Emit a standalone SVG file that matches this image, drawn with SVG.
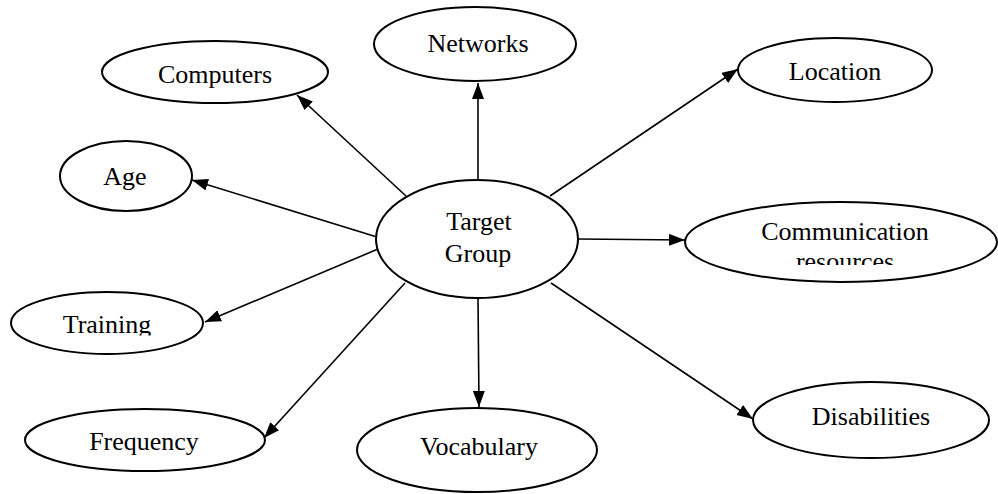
<svg xmlns="http://www.w3.org/2000/svg" width="998" height="494" viewBox="0 0 998 494">
<style>
.n{fill:#fff;stroke:#000;stroke-width:2}
.t{font-family:"Liberation Serif","Times New Roman",serif;font-size:26px;fill:#000;text-anchor:middle}
.c line{stroke:#000;stroke-width:1.6}
</style>
<defs>
<marker id="ah" markerUnits="userSpaceOnUse" markerWidth="18" markerHeight="14" refX="16" refY="6" orient="auto">
<path d="M0,0 L16,6 L0,12 Z" fill="#000"/>
</marker>
<clipPath id="clipComm"><rect x="680" y="190" width="318" height="75"/></clipPath>
<clipPath id="clipTrain"><rect x="0" y="290" width="240" height="45.5"/></clipPath>
</defs>
<rect width="998" height="494" fill="#fff"/>
<g class="c" id="connectors">
<line x1="478" y1="180" x2="478" y2="83" marker-end="url(#ah)"/>
<line x1="406" y1="196" x2="297" y2="95" marker-end="url(#ah)"/>
<line x1="377" y1="237" x2="192" y2="180" marker-end="url(#ah)"/>
<line x1="378" y1="249" x2="205" y2="322" marker-end="url(#ah)"/>
<line x1="405" y1="283" x2="264" y2="438" marker-end="url(#ah)"/>
<line x1="478" y1="298" x2="479" y2="407" marker-end="url(#ah)"/>
<line x1="551" y1="283" x2="753" y2="419" marker-end="url(#ah)"/>
<line x1="578" y1="239" x2="685" y2="240" marker-end="url(#ah)"/>
<line x1="550" y1="196" x2="738" y2="69" marker-end="url(#ah)"/>
</g>
<g id="target"><ellipse class="n" cx="477" cy="239" rx="101" ry="59"/><text class="t" x="479" y="230">Target</text><text class="t" x="478" y="262">Group</text></g>
<g id="networks"><ellipse class="n" cx="475" cy="44" rx="101" ry="37"/><text class="t" x="478" y="52">Networks</text></g>
<g id="computers"><ellipse class="n" cx="215" cy="72" rx="113" ry="31"/><text class="t" x="215" y="83">Computers</text></g>
<g id="age"><ellipse class="n" cx="126" cy="176" rx="66" ry="35"/><text class="t" x="125" y="185">Age</text></g>
<g id="training"><ellipse class="n" cx="107" cy="323" rx="96" ry="31"/><text class="t" x="107" y="333" clip-path="url(#clipTrain)">Training</text></g>
<g id="frequency"><ellipse class="n" cx="145" cy="440" rx="120" ry="31"/><text class="t" x="144" y="450">Frequency</text></g>
<g id="vocabulary"><ellipse class="n" cx="477" cy="450" rx="120" ry="42"/><text class="t" x="479" y="455">Vocabulary</text></g>
<g id="disabilities"><ellipse class="n" cx="871" cy="420" rx="118" ry="38"/><text class="t" x="871" y="425">Disabilities</text></g>
<g id="communication"><ellipse class="n" cx="841" cy="242" rx="156" ry="40"/><g clip-path="url(#clipComm)"><text class="t" x="845" y="240">Communication</text><text class="t" x="845" y="270">resources</text></g></g>
<g id="location"><ellipse class="n" cx="835" cy="70" rx="97" ry="32"/><text class="t" x="835" y="80">Location</text></g>
</svg>
